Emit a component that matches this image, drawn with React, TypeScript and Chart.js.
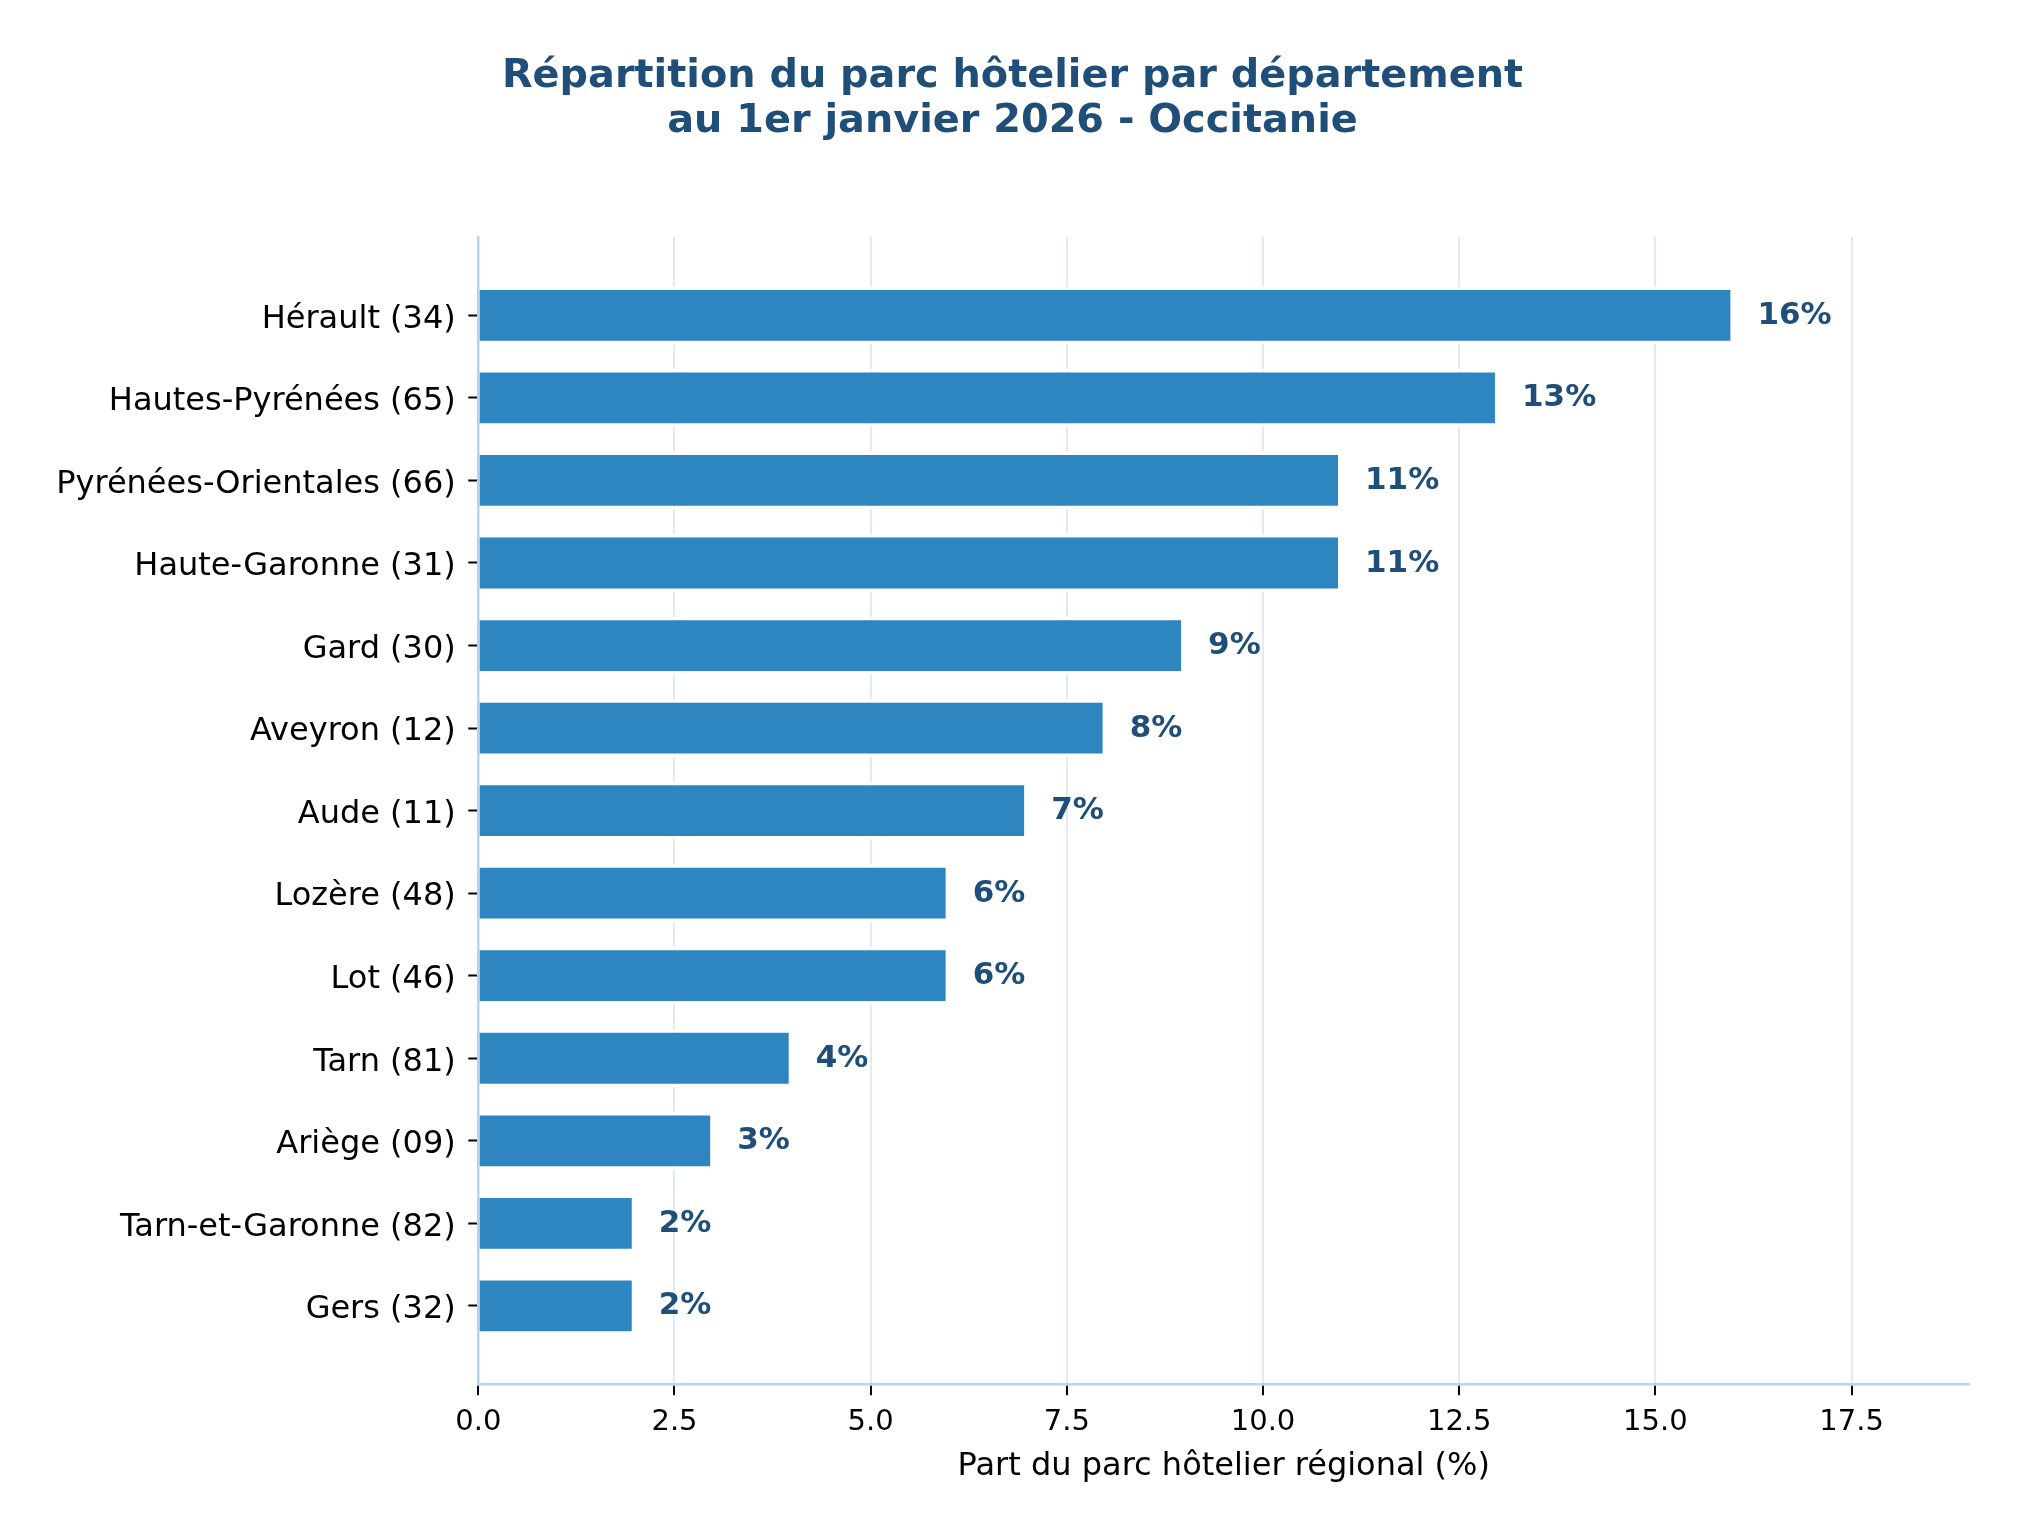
import { useEffect, useRef } from 'react';
import { Chart, ChartConfiguration, registerables } from 'chart.js';

Chart.register(...registerables);

const departments = [
  'Hérault (34)',
  'Hautes-Pyrénées (65)',
  'Pyrénées-Orientales (66)',
  'Haute-Garonne (31)',
  'Gard (30)',
  'Aveyron (12)',
  'Aude (11)',
  'Lozère (48)',
  'Lot (46)',
  'Tarn (81)',
  'Ariège (09)',
  'Tarn-et-Garonne (82)',
  'Gers (32)',
];
const shares = [16, 13, 11, 11, 9, 8, 7, 6, 6, 4, 3, 2, 2];
const xTicks = [0, 2.5, 5, 7.5, 10, 12.5, 15, 17.5];

const titleLines = [
  'Répartition du parc hôtelier par département',
  'au 1er janvier 2026 - Occitanie',
];
const xTitle = 'Part du parc hôtelier régional (%)';

const FONT = 'DejaVu Sans';
const DARK_BLUE = '#1f4e79';
const BAR_BLUE = '#2e86c1';
const SPINE = '#b4d5ef';
const GRID = '#e1ebf6';

// etiquettes "16%" au bout des barres
const valueLabels = {
  id: 'valueLabels',
  afterDatasetsDraw(chart: Chart) {
    const { ctx } = chart;
    const xScale = chart.scales.x;
    const meta = chart.getDatasetMeta(0);
    ctx.save();
    ctx.font = `bold 31px "${FONT}"`;
    ctx.fillStyle = DARK_BLUE;
    ctx.textAlign = 'left';
    ctx.textBaseline = 'middle';
    meta.data.forEach((bar: any, i: number) => {
      const x = xScale.getPixelForValue(shares[i] + 0.3);
      ctx.fillText(`${shares[i]}%`, x, bar.y + 0.5);
    });
    ctx.restore();
  },
};

export default function App() {
  const chartRef = useRef<HTMLCanvasElement>(null);
  const chartInstance = useRef<Chart | null>(null);

  useEffect(() => {
    if (!chartRef.current) return;
    if (chartInstance.current) chartInstance.current.destroy();

    const config: ChartConfiguration = {
      type: 'bar',
      data: {
        datasets: [
          {
            data: shares.map((v, i) => ({ x: v, y: i })),
            backgroundColor: BAR_BLUE,
            borderColor: '#ffffff',
            borderWidth: 3.5,
            borderSkipped: 'start',
            barPercentage: 0.7,
            categoryPercentage: 1,
          },
        ],
      },
      options: {
        indexAxis: 'y',
        responsive: true,
        maintainAspectRatio: false,
        animation: false,
        layout: { padding: { left: 55.7, right: 53.7, top: 0, bottom: 0 } },
        plugins: {
          legend: { display: false },
          tooltip: { enabled: false },
          title: {
            display: true,
            text: titleLines,
            color: DARK_BLUE,
            font: { family: FONT, size: 39.8, weight: 'bold', lineHeight: 1.14 },
            padding: { top: 54, bottom: 92.2 },
          },
        },
        scales: {
          x: {
            type: 'linear',
            min: 0,
            max: 19,
            offset: false,
            afterBuildTicks: (scale: any) => {
              scale.ticks = xTicks.map((value) => ({ value }));
            },
            afterFit: (scale: any) => {
              scale.height = 150.7;
            },
            grid: {
              color: GRID,
              lineWidth: 2,
              offset: false,
              drawTicks: true,
              tickLength: 11,
              tickColor: '#000000',
              tickWidth: 2,
            },
            border: { color: SPINE, width: 2.5 },
            ticks: {
              color: '#000000',
              padding: 9.5,
              font: { family: FONT, size: 29 },
              callback: (value: any) => Number(value).toFixed(1),
            },
            title: {
              display: true,
              text: xTitle,
              color: '#000000',
              font: { family: FONT, size: 32 },
              padding: { top: 0, bottom: 49 },
            },
          },
          y: {
            type: 'linear',
            min: -0.95,
            max: 12.95,
            reverse: true,
            offset: false,
            afterBuildTicks: (scale: any) => {
              scale.ticks = departments.map((_, i) => ({ value: i }));
            },
            afterFit: (scale: any) => {
              scale.width = 422.6;
            },
            grid: {
              offset: false,
              drawOnChartArea: false,
              drawTicks: true,
              tickLength: 10,
              tickColor: '#000000',
              tickWidth: 2,
            },
            border: { color: SPINE, width: 2.5, z: 1 },
            ticks: {
              color: '#000000',
              padding: 12.5,
              labelOffset: 4,
              font: { family: FONT, size: 32 },
              callback: (value: any) => departments[value] ?? '',
            },
          },
        },
      },
      plugins: [valueLabels],
    };

    chartInstance.current = new Chart(chartRef.current, config);

    return () => {
      if (chartInstance.current) {
        chartInstance.current.destroy();
        chartInstance.current = null;
      }
    };
  }, []);

  return (
    <div
      style={{
        position: 'fixed',
        left: 0,
        top: 0,
        width: '2023px',
        height: '1535px',
        background: '#ffffff',
      }}
    >
      <canvas ref={chartRef}></canvas>
    </div>
  );
}
